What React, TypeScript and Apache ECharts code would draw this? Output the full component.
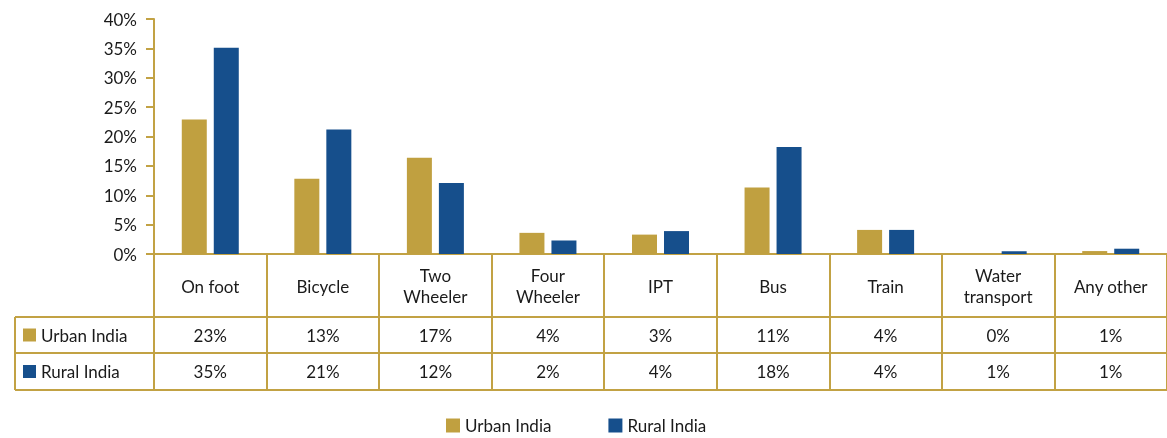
import React, { useEffect, useRef } from "react";
import * as echarts from "echarts";

const categories = ["On foot", "Bicycle", "Two\nWheeler", "Four\nWheeler", "IPT", "Bus", "Train", "Water\ntransport", "Any other"];
const seriesNames = ["Urban India", "Rural India"];
const urbanValues = [22.9, 12.8, 16.4, 3.6, 3.3, 11.3, 4.1, 0, 0.5];
const ruralValues = [35.1, 21.2, 12.1, 2.3, 3.9, 18.2, 4.1, 0.45, 0.9];
const urbanLabels = ["23%", "13%", "17%", "4%", "3%", "11%", "4%", "0%", "1%"];
const ruralLabels = ["35%", "21%", "12%", "2%", "4%", "18%", "4%", "1%", "1%"];
const yTicks = [0, 5, 10, 15, 20, 25, 30, 35, 40];

const GOLD = "#C0A040";
const BLUE = "#164F8C";
const LINE = "#C2A244";
const TEXT = "#1a1a1a";
const FONT = "Lato";
const FS = 17;

export default function App() {
  const ref = useRef<HTMLDivElement>(null);
  useEffect(() => {
    if (!ref.current) return;
    const chart = echarts.init(ref.current, null, { renderer: "svg" });
    const gridLeft = 154;
    const gridTop = 19;
    const gridBottom = 184;
    const cellW = 113.6;
    chart.setOption({
      animation: false,
      textStyle: { fontFamily: FONT },
      grid: { left: gridLeft, top: gridTop, bottom: gridBottom, width: cellW * categories.length },
      legend: {
        left: 441,
        top: 412,
        icon: "rect",
        itemWidth: 14,
        itemHeight: 14,
        itemGap: 57,
        textStyle: { fontFamily: FONT, fontSize: FS, color: TEXT },
        data: seriesNames,
      },
      xAxis: {
        type: "category",
        data: categories,
        axisLine: { lineStyle: { color: LINE, width: 2 } },
        axisTick: { show: true, interval: 0, length: 136, alignWithLabel: false, lineStyle: { color: LINE, width: 2 } },
        axisLabel: { interval: 0, margin: 32, verticalAlign: "middle", fontFamily: FONT, fontSize: FS, color: TEXT, lineHeight: 21 },
      },
      yAxis: {
        type: "value",
        min: yTicks[0],
        max: yTicks[yTicks.length - 1],
        interval: 5,
        splitLine: { show: false },
        axisLine: { show: true, lineStyle: { color: LINE, width: 2 } },
        axisTick: { show: true, length: 8, lineStyle: { color: LINE, width: 2 } },
        axisLabel: { formatter: "{value}%", margin: 17, fontFamily: FONT, fontSize: FS, color: TEXT },
      },
      series: [
        { name: seriesNames[0], type: "bar", data: urbanValues, barWidth: 25, barGap: "28%", itemStyle: { color: GOLD } },
        { name: seriesNames[1], type: "bar", data: ruralValues, barWidth: 25, itemStyle: { color: BLUE } },
      ],
    });

    const xs = categories.map((_, i) => chart.convertToPixel({ xAxisIndex: 0 }, i) as number);
    const y0 = chart.convertToPixel({ yAxisIndex: 0 }, 0) as number;
    const row1 = y0 + 63;
    const row2 = row1 + 36;
    const row3 = row2 + 37;
    const tableLeft = 15;
    const right = 1167;
    const lineStyle = { stroke: LINE, lineWidth: 2 };
    const elements: any[] = [];
    [row1, row2, row3].forEach((y) =>
      elements.push({ type: "line", shape: { x1: tableLeft, y1: y, x2: right, y2: y }, style: lineStyle })
    );
    elements.push({ type: "line", shape: { x1: tableLeft, y1: row1, x2: tableLeft, y2: row3 }, style: lineStyle });
    const rows = [
      { name: seriesNames[0], color: GOLD, labels: urbanLabels, y0: row1, y1: row2 },
      { name: seriesNames[1], color: BLUE, labels: ruralLabels, y0: row2, y1: row3 },
    ];
    rows.forEach((r) => {
      const cy = (r.y0 + r.y1) / 2;
      elements.push({ type: "rect", shape: { x: 23, y: cy - 6.5, width: 13, height: 13 }, style: { fill: r.color } });
      elements.push({
        type: "text",
        x: 41,
        y: cy,
        style: { text: r.name, fill: TEXT, font: `${FS}px ${FONT}`, textAlign: "left", textVerticalAlign: "middle" },
      });
      r.labels.forEach((lab, i) => {
        elements.push({
          type: "text",
          x: xs[i],
          y: cy,
          style: { text: lab, fill: TEXT, font: `${FS}px ${FONT}`, textAlign: "center", textVerticalAlign: "middle" },
        });
      });
    });
    chart.setOption({ graphic: { elements } });
    return () => chart.dispose();
  }, []);
  return <div ref={ref} style={{ position: "fixed", left: 0, top: 0, width: 1167, height: 438 }} />;
}
